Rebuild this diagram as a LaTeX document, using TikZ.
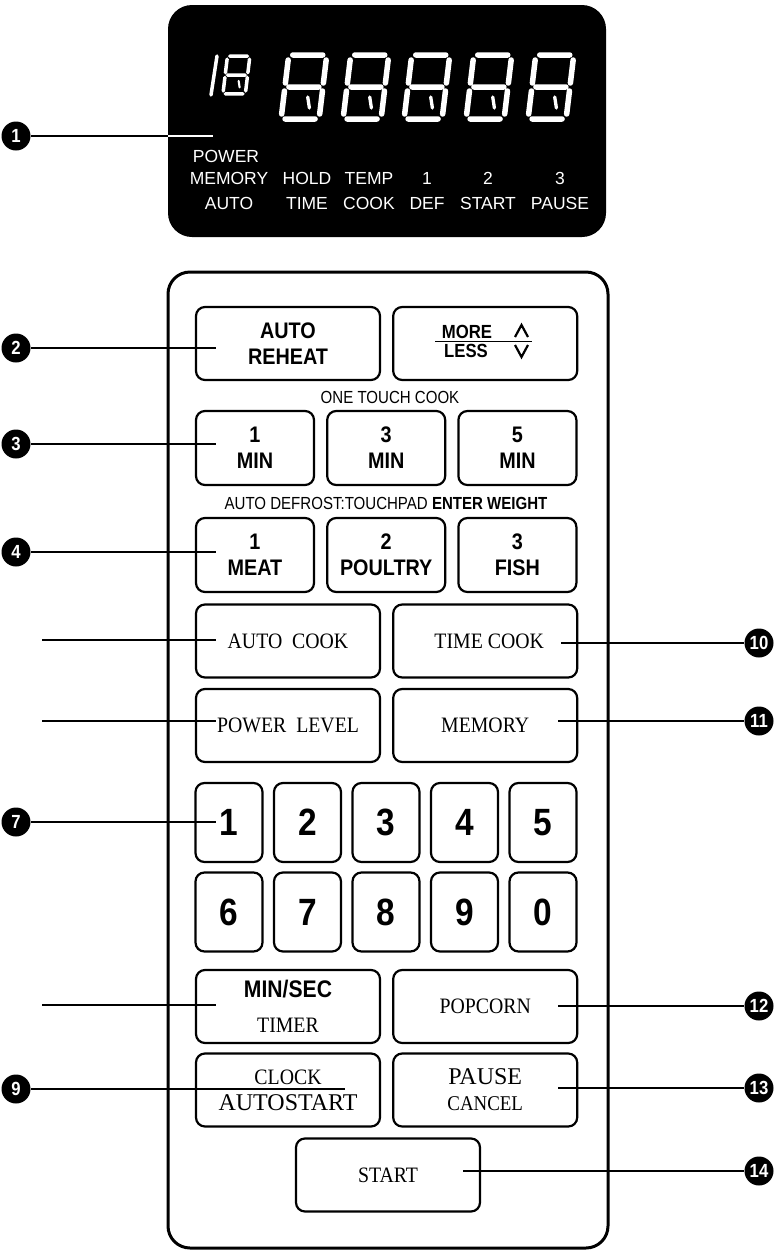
\documentclass[tikz,border=0pt]{standalone}
\usepackage{fontspec}
\setmainfont{Liberation Serif}
\newfontfamily\lcdfont{Liberation Sans}
\newfontfamily\keyfont[FakeStretch=0.88]{Liberation Sans Bold}
\newfontfamily\capfont[FakeStretch=0.86]{Liberation Sans}
\newfontfamily\labelfont[FakeStretch=0.9]{Liberation Serif}
\usetikzlibrary{positioning}

% one seven-segment digit of the display: x, y, scale, line width
\newcommand\segdigit[4]{%
  \begin{scope}[shift={(#1,#2)}, scale=#3, xslant=0.12]
    \draw[seg, line width=#4] (5,2) -- (35,2) (1,7) -- (1,30) (39,7) -- (39,30)
      (5,34) -- (35,34) (1,38) -- (1,61) (39,38) -- (39,61) (5,66) -- (35,66);
    \draw[seg, line width=0.6*#4] (25,44) -- (28,55);
  \end{scope}}

\begin{document}
\begin{tikzpicture}[x=1pt, y=-1pt,
    lead/.style={line width=2.8},
    keybtn/.style={draw, line width=2.2, rounded corners=9, inner sep=0, align=center,
      font={\keyfont\fontsize{22.5}{26}\selectfont}},
    widebtn/.style={keybtn, minimum width=184, minimum height=73},
    smallbtn/.style={keybtn, minimum width=118, minimum height=74},
    numbtn/.style={keybtn, minimum width=67, minimum height=79,
      font={\keyfont\fontsize{38}{40}\selectfont}},
    serifbtn/.style={widebtn, font={\labelfont\fontsize{22}{26}\selectfont}},
    callout/.style={circle, fill=black, text=white, minimum size=29, inner sep=0,
      font={\keyfont\fontsize{19}{19}\selectfont}},
    lcd/.style={text=white, inner sep=0, font={\lcdfont\fontsize{17.5}{18}\selectfont}},
    caption/.style={inner sep=0, font={\capfont\fontsize{17.5}{18}\selectfont}},
    seg/.style={white, line cap=round},
    node distance=11pt
  ]
  \useasboundingbox (0,0) rectangle (776,1251);

  % display
  \node[fill=black, rounded corners=24, minimum width=438, minimum height=232, inner sep=0] (disp) at (387,121) {};
  \draw[seg, line width=3.5] (217,56) -- (211,95);
  \segdigit{227}{55}{0.59}{3.5}
  \foreach \dx in {280,342,403,465,527} {
    \segdigit{\dx+8}{53}{1}{5.5}
  }

  \node[lcd] (lpower) at (226,156) {POWER};
  \foreach \x/\ta/\tb [count=\i] in {229/MEMORY/AUTO, 307/HOLD/TIME, 369/TEMP/COOK,
      427/1/DEF, 488/2/START, 560/3/PAUSE} {
    \node[lcd] (lt\i) at (\x,178) {\ta};
    \node[lcd] (lb\i) at (\x,203) {\tb};
  }

  % key panel
  \node[draw, line width=3, rounded corners=22, minimum width=440, minimum height=976, inner sep=0] (panel) at (388,760) {};

  \node[widebtn] (reheat) at (288,343.5) {AUTO\\REHEAT};
  \node[widebtn, right=of reheat] (moreless) {};
  \node[inner sep=0, font={\keyfont\fontsize{19}{19}\selectfont}] (more) at (467,331.5) {MORE};
  \node[inner sep=0, font={\keyfont\fontsize{19}{19}\selectfont}] (less) at (466,351) {LESS};
  \draw[line width=1.8] (435,341.5) -- (532,341.5);
  \draw[line width=2.2] (515,337) -- (521.5,325) -- (528,337);
  \draw[line width=2.2] (515,345) -- (521.5,357) -- (528,345);

  \node[caption] (onetouch) at (390,397) {ONE TOUCH COOK};
  \node[smallbtn] (min1) at (255,448) {1\\MIN};
  \node[smallbtn, right=of min1] (min3) {3\\MIN};
  \node[smallbtn, right=of min3] (min5) {5\\MIN};

  \node[caption] (defrost) at (386,503) {AUTO DEFROST:TOUCHPAD {\bfseries ENTER WEIGHT}};
  \node[smallbtn] (meat) at (255,555) {1\\MEAT};
  \node[smallbtn, right=of meat] (poultry) {2\\POULTRY};
  \node[smallbtn, right=of poultry] (fish) {3\\FISH};

  \node[serifbtn] (autocook) at (288,641) {AUTO~~COOK};
  \node[serifbtn, right=of autocook] (timecook) {\hspace*{8pt}TIME COOK};
  \node[serifbtn] (powerlevel) at (288,725.5) {POWER~~LEVEL};
  \node[serifbtn, right=of powerlevel] (memory) {MEMORY};

  \foreach \d [count=\i from 0] in {1,2,3,4,5}
    \node[numbtn] (k\d) at (229+78.5*\i,822.5) {\d};
  \foreach \d [count=\i from 0] in {6,7,8,9,0}
    \node[numbtn] (k\d) at (229+78.5*\i,912) {\d};

  \node[serifbtn] (minsec) at (288,1006.5)
    {{\keyfont\fontsize{24}{26}\selectfont MIN/SEC}\\[9pt]TIMER};
  \node[serifbtn, right=of minsec] (popcorn) {POPCORN};
  \node[serifbtn] (clock) at (288,1090)
    {CLOCK\\{\rmfamily\fontsize{24}{26}\selectfont AUTOSTART}};
  \node[serifbtn, right=of clock] (pause)
    {{\rmfamily\fontsize{24}{26}\selectfont PAUSE}\\{\fontsize{21}{26}\selectfont CANCEL}};
  \node[serifbtn] (start) at (388,1175) {START};

  % callouts
  \node[callout] (c1) at (16,136) {1};
  \node[callout] (c2) at (16,348) {2};
  \node[callout] (c3) at (16,444) {3};
  \node[callout] (c4) at (16,552) {4};
  \node[callout] (c7) at (16,822) {7};
  \node[callout] (c9) at (16,1089) {9};
  \node[callout] (c10) at (759,643) {10};
  \node[callout] (c11) at (759,721) {11};
  \node[callout] (c12) at (759,1006) {12};
  \node[callout] (c13) at (759,1088) {13};
  \node[callout] (c14) at (759,1171) {14};

  \coordinate (e1) at (213,136);
  \coordinate (e2) at (216,348);
  \coordinate (e3) at (216,444);
  \coordinate (e4) at (216,552);
  \coordinate (s5) at (42,640);
  \coordinate (e5) at (216,640);
  \coordinate (s6) at (42,721);
  \coordinate (e6) at (216,721);
  \coordinate (e7) at (216,822);
  \coordinate (s8) at (42,1005);
  \coordinate (e8) at (216,1005);
  \coordinate (e9) at (345,1089);
  \coordinate (e10) at (561,643);
  \coordinate (e11) at (558,721);
  \coordinate (e12) at (558,1006);
  \coordinate (e13) at (558,1088);
  \coordinate (e14) at (463,1171);

  \draw[lead] (c1) -- (c1 -| disp.west);
  \draw[lead, white] (c1 -| disp.west) -- (e1);
  \draw[lead] (c2) -- (e2);
  \draw[lead] (c3) -- (e3);
  \draw[lead] (c4) -- (e4);
  \draw[lead] (s5) -- (e5);
  \draw[lead] (s6) -- (e6);
  \draw[lead] (c7) -- (e7);
  \draw[lead] (s8) -- (e8);
  \draw[lead] (c9) -- (e9);
  \draw[lead] (e10) -- (c10);
  \draw[lead] (e11) -- (c11);
  \draw[lead] (e12) -- (c12);
  \draw[lead] (e13) -- (c13);
  \draw[lead] (e14) -- (c14);
\end{tikzpicture}
\end{document}
